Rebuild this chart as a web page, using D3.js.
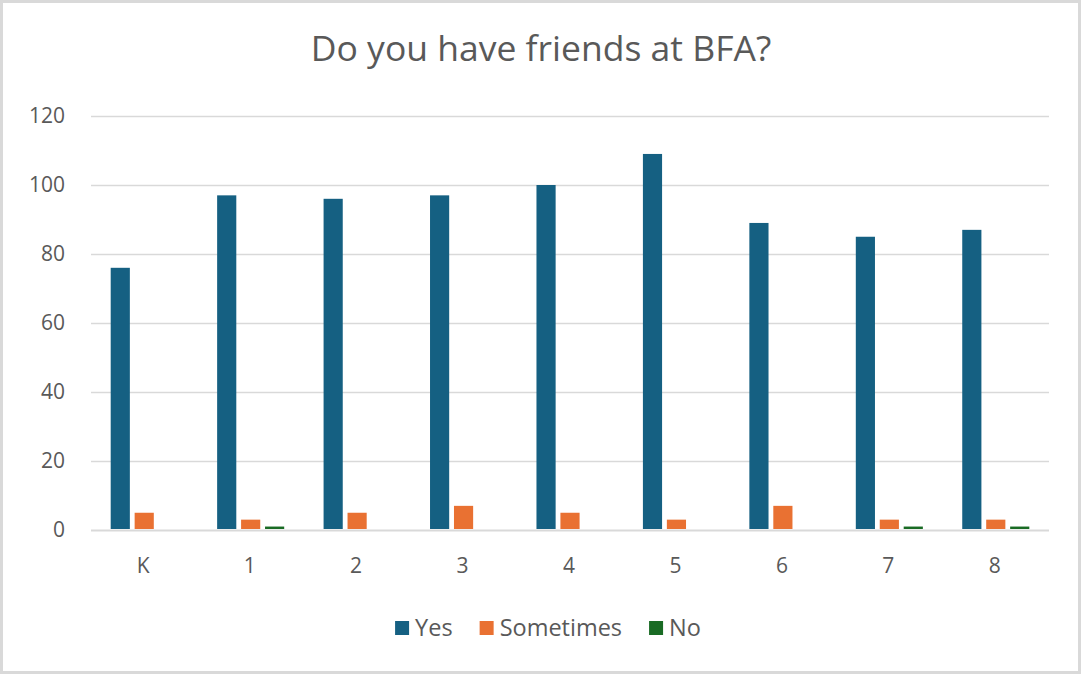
<!DOCTYPE html>
<html>
<head>
<meta charset="utf-8">
<script src="https://cdn.jsdelivr.net/npm/d3@7"></script>
<style>
  html, body { margin: 0; padding: 0; background: #fff; }
  svg { display: block; }
  text { font-family: "Open Sans", "Liberation Sans", Arial, sans-serif; fill: #595959; }
</style>
</head>
<body>
<svg id="chart" width="1081" height="675"></svg>
<script>
const title = "Do you have friends at BFA?";
const categories = ["K", "1", "2", "3", "4", "5", "6", "7", "8"];
const seriesNames = ["Yes", "Sometimes", "No"];
const yesValues = [76, 97, 96, 97, 100, 109, 89, 85, 87];
const sometimesValues = [5, 3, 5, 7, 5, 3, 7, 3, 3];
const noValues = [0, 1, 0, 0, 0, 0, 0, 1, 1];
const yTicks = [0, 20, 40, 60, 80, 100, 120];
const colors = ["#156082", "#E97132", "#196B24"];

const seriesValues = [yesValues, sometimesValues, noValues];

const W = 1081, H = 675;
const plot = { left: 91, right: 1049, top: 116, bottom: 530 };

const svg = d3.select("#chart");

// border
svg.append("rect")
  .attr("x", 1.5).attr("y", 1.5)
  .attr("width", W - 3).attr("height", H - 4)
  .attr("fill", "#fff")
  .attr("stroke", "#d9d9d9").attr("stroke-width", 3);

// title
svg.append("text")
  .attr("x", 541).attr("y", 61)
  .attr("text-anchor", "middle")
  .attr("font-size", 35.5)
  .text(title);

const y = d3.scaleLinear().domain([0, 120]).range([plot.bottom, plot.top]);
const x0 = d3.scaleBand().domain(categories).range([plot.left, plot.right])
  .paddingInner(0.37).paddingOuter(0.185);
const x1 = d3.scaleBand().domain(seriesNames).range([0, x0.bandwidth()]).paddingInner(0.2);

// gridlines via axis
const yAxis = d3.axisLeft(y).tickValues(yTicks).tickSize(-(plot.right - plot.left)).tickPadding(26);
const gy = svg.append("g").attr("transform", `translate(${plot.left},0)`).call(yAxis);
gy.select(".domain").remove();
gy.selectAll(".tick line").attr("stroke", "#d9d9d9").attr("stroke-width", 1.5);
gy.selectAll(".tick text").attr("font-size", 21).attr("fill", "#595959")
  .style("font-family", "\"Open Sans\", \"Liberation Sans\", Arial, sans-serif");
gy.selectAll(".tick").filter(d => d === 0).select("line").attr("stroke-width", 2.2);

// bars
const groups = svg.append("g").selectAll("g")
  .data(categories)
  .join("g")
  .attr("transform", d => `translate(${x0(d)},0)`);

groups.selectAll("rect")
  .data((d, i) => seriesNames.map((s, k) => ({ s, k, v: seriesValues[k][i] })))
  .join("rect")
  .filter(d => d.v > 0)
  .attr("x", d => x1(d.s))
  .attr("width", x1.bandwidth())
  .attr("y", d => y(d.v))
  .attr("height", d => y(0) - y(d.v) - 1)
  .attr("fill", d => colors[d.k]);

// x axis labels
const xAxis = d3.axisBottom(x0).tickSize(0).tickPadding(28);
const gx = svg.append("g").attr("transform", `translate(-1,${plot.bottom})`).call(xAxis);
gx.select(".domain").remove();
gx.selectAll(".tick text").attr("font-size", 21).attr("fill", "#595959")
  .style("font-family", "\"Open Sans\", \"Liberation Sans\", Arial, sans-serif");

// legend
const legend = svg.append("g");
let cx = 0;
seriesNames.forEach((name, k) => {
  const g = legend.append("g");
  g.append("rect").attr("x", 0).attr("y", -15).attr("width", 14).attr("height", 14).attr("fill", colors[k]);
  const t = g.append("text").attr("x", 20).attr("y", 0).attr("font-size", 23.5).text(name);
  const w = 20 + t.node().getComputedTextLength();
  g.attr("transform", `translate(${cx},0)`);
  cx += w + 27;
});
const totalW = cx - 27;
legend.attr("transform", `translate(${548 - totalW / 2},636)`);
</script>
</body>
</html>
